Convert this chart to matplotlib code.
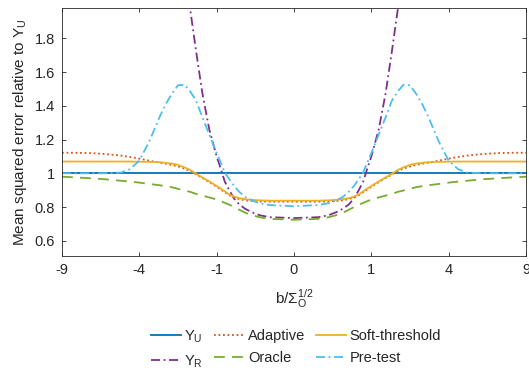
import numpy as np
import matplotlib
matplotlib.use("Agg")
import matplotlib.pyplot as plt
from matplotlib.ticker import FixedLocator, FuncFormatter

plt.rcParams['font.family'] = ['Liberation Sans', 'DejaVu Sans']

# b / Sigma_O^{1/2} grid
b = [-9, -8, -7, -6, -5, -4.5, -4, -3.5, -3, -2.75, -2.5, -2.25, -2, -1.8, -1.6, -1.4, -1.2,
     -1, -0.9, -0.8, -0.7, -0.6, -0.5, -0.4, -0.3, -0.2, -0.1, 0,
     0.1, 0.2, 0.3, 0.4, 0.5, 0.6, 0.7, 0.8, 0.9, 1,
     1.2, 1.4, 1.6, 1.8, 2, 2.25, 2.5, 2.75, 3, 3.5, 4, 4.5, 5, 6, 7, 8, 9]

y_u = [1.0] * len(b)

adaptive = [1.122, 1.122, 1.120, 1.115, 1.105, 1.097, 1.087, 1.075, 1.063, 1.057, 1.050, 1.041, 1.028, 1.013, 0.993, 0.972, 0.948,
            0.920, 0.905, 0.888, 0.870, 0.857, 0.847, 0.840, 0.836, 0.833, 0.832, 0.832,
            0.832, 0.833, 0.836, 0.840, 0.847, 0.857, 0.870, 0.888, 0.905, 0.920,
            0.948, 0.972, 0.993, 1.013, 1.028, 1.041, 1.050, 1.057, 1.063, 1.075, 1.087, 1.097, 1.105, 1.115, 1.120, 1.122, 1.122]

soft = [1.070, 1.070, 1.070, 1.070, 1.070, 1.070, 1.069, 1.068, 1.066, 1.062, 1.058, 1.050, 1.035, 1.020, 0.997, 0.975, 0.952,
        0.925, 0.910, 0.893, 0.875, 0.862, 0.853, 0.847, 0.843, 0.840, 0.838, 0.838,
        0.838, 0.840, 0.843, 0.847, 0.853, 0.862, 0.875, 0.893, 0.910, 0.925,
        0.952, 0.975, 0.997, 1.020, 1.035, 1.050, 1.058, 1.062, 1.066, 1.068, 1.069, 1.070, 1.070, 1.070, 1.070, 1.070, 1.070]

oracle = [0.980, 0.976, 0.971, 0.965, 0.956, 0.951, 0.945, 0.937, 0.929, 0.924, 0.918, 0.908, 0.898, 0.890, 0.878, 0.868, 0.857,
          0.845, 0.835, 0.825, 0.814, 0.800, 0.784, 0.767, 0.752, 0.740, 0.730, 0.725,
          0.730, 0.740, 0.752, 0.767, 0.784, 0.800, 0.814, 0.825, 0.835, 0.845,
          0.857, 0.868, 0.878, 0.890, 0.898, 0.908, 0.918, 0.924, 0.929, 0.937, 0.945, 0.951, 0.956, 0.965, 0.971, 0.976, 0.980]

pretest = [1.000, 1.000, 1.000, 1.000, 1.005, 1.025, 1.075, 1.190, 1.340, 1.410, 1.470, 1.522, 1.525, 1.485, 1.430, 1.330, 1.230,
           1.120, 1.065, 1.005, 0.965, 0.925, 0.890, 0.860, 0.840, 0.823, 0.812, 0.805,
           0.812, 0.823, 0.840, 0.860, 0.890, 0.925, 0.965, 1.005, 1.065, 1.120,
           1.230, 1.330, 1.430, 1.485, 1.525, 1.522, 1.470, 1.410, 1.340, 1.190, 1.075, 1.025, 1.005, 1.000, 1.000, 1.000, 1.000]

# Restricted estimator (goes off the top of the axes)
b_r = [-2.25, -2, -1.8, -1.6, -1.4, -1.2, -1, -0.9, -0.8, -0.7, -0.6, -0.5, -0.4, -0.3, -0.2, -0.1, 0,
       0.1, 0.2, 0.3, 0.4, 0.5, 0.6, 0.7, 0.8, 0.9, 1, 1.2, 1.4, 1.6, 1.8, 2, 2.25]
y_r = [2.60, 2.22, 1.97, 1.72, 1.47, 1.26, 1.10, 1.03, 0.95, 0.90, 0.85, 0.815, 0.79, 0.77, 0.752, 0.74, 0.735,
       0.74, 0.752, 0.77, 0.79, 0.815, 0.85, 0.90, 0.95, 1.03, 1.10, 1.26, 1.47, 1.72, 1.97, 2.22, 2.60]

xticks = [-9, -4, -1, 0, 1, 4, 9]
yticks = [0.6, 0.8, 1.0, 1.2, 1.4, 1.6, 1.8]

def fwd(x):
    x = np.asarray(x, dtype=float)
    return np.sign(x) * np.sqrt(np.abs(x))

def inv(u):
    u = np.asarray(u, dtype=float)
    return np.sign(u) * u ** 2

fig = plt.figure(figsize=(5.29, 3.71), dpi=100)
ax = fig.add_axes([62 / 529, 1 - 256 / 371, (526 - 62) / 529, (256 - 8) / 371])
ax.set_xscale('function', functions=(fwd, inv))

lw = 1.3
dashdot = (0, (5, 2, 1, 2))
l_u, = ax.plot(b, y_u, color='#0072BD', lw=lw, ls='-', label='Y$_\\mathregular{U}$')
l_r, = ax.plot(b_r, y_r, color='#7E2F8E', lw=lw, ls=dashdot, label='Y$_\\mathregular{R}$')
l_a, = ax.plot(b, adaptive, color='#D95319', lw=lw, ls=(0, (1, 1.5)), label='Adaptive')
l_o, = ax.plot(b, oracle, color='#77AC30', lw=lw, ls=(0, (6, 4)), label='Oracle')
l_s, = ax.plot(b, soft, color='#EDB120', lw=lw, ls='-', label='Soft-threshold')
l_p, = ax.plot(b, pretest, color='#4DBEEE', lw=lw, ls=dashdot, label='Pre-test')

ax.set_xlim(-9, 9)
ax.set_ylim(0.51, 1.98)
ax.xaxis.set_major_locator(FixedLocator(xticks))
ax.xaxis.set_minor_locator(FixedLocator([]))
ax.xaxis.set_major_formatter(FuncFormatter(lambda v, p: f"{v:g}"))
ax.set_yticks(yticks)
ax.yaxis.set_major_formatter(FuncFormatter(lambda v, p: f"{v:g}"))

fs = 10.5
ax.tick_params(direction='in', length=3, width=0.6, colors='#262626', labelsize=fs,
               top=True, right=True, pad=5)
for s in ax.spines.values():
    s.set_color('#262626')
    s.set_linewidth(0.6)

ax.set_ylabel('Mean squared error relative to Y$_\\mathregular{U}$', fontsize=11, color='#262626', labelpad=4)
ax.set_xlabel('b/\u03a3$_\\mathregular{O}^\\mathregular{1/2}$', fontsize=11, color='#262626', labelpad=8)

handles = [l_u, l_r, l_a, l_o, l_s, l_p]
leg = fig.legend(handles=handles, labels=[h.get_label() for h in handles], ncol=3, frameon=False,
                 loc='center', bbox_to_anchor=(296 / 529, 1 - 349 / 371), fontsize=10.5,
                 handlelength=2.05, handletextpad=0.25, columnspacing=0.75, labelspacing=0.55)
for t in leg.get_texts():
    t.set_color('#262626')

fig.savefig('out.png', dpi=100)
